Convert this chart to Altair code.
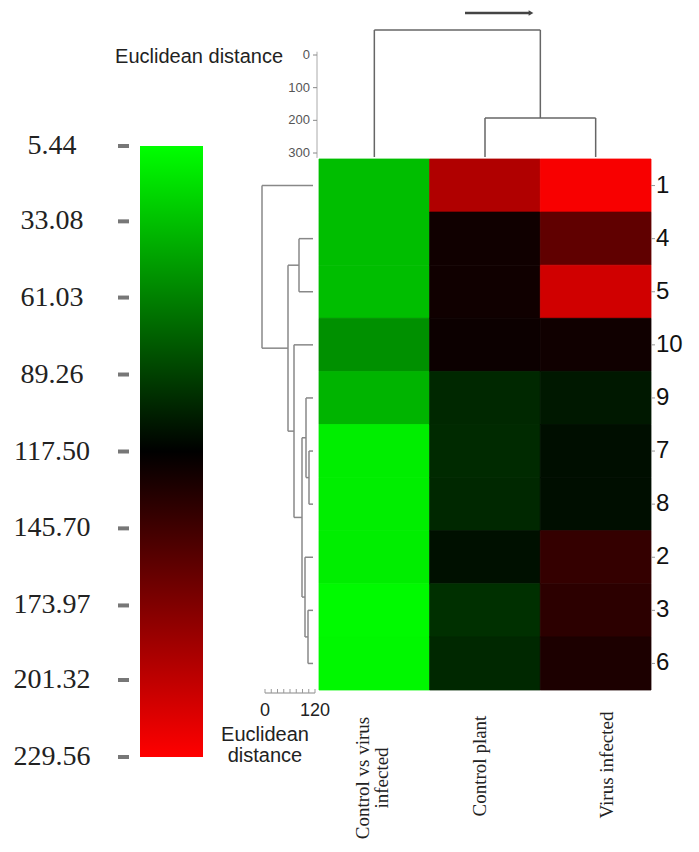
import altair as alt
import pandas as pd

# ---------------- data ----------------
row_labels = ["1", "4", "5", "10", "9", "7", "8", "2", "3", "6"]
col_labels = ["Control vs virus infected", "Control plant", "Virus infected"]
col_text = ["Control vs virus\ninfected", "Control plant", "Virus infected"]

vals_ctrl_vs_virus = [34.0, 34.0, 34.0, 54.2, 38.4, 12.9, 12.9, 12.9, 7.6, 8.5]
vals_control_plant = [194.8, 124.5, 124.5, 122.8, 99.9, 99.0, 99.9, 110.5, 96.4, 99.9]
vals_virus_infected = [226.5, 159.7, 208.9, 124.5, 107.0, 111.3, 111.3, 140.4, 136.8, 129.8]

key_ticks = [5.44, 33.08, 61.03, 89.26, 117.50, 145.70, 173.97, 201.32, 229.56]
key_labels = ["5.44", "33.08", "61.03", "89.26", "117.50", "145.70", "173.97", "201.32", "229.56"]

top_axis_ticks = [0, 100, 200, 300]
bot_axis_ticks = [0, 15, 30, 45, 60, 75, 90, 105, 120]
bot_axis_labels = [0, 120]

# dendrogram merges: (node, child a, child b, merge height)
col_merges = [
    ("c1", "Control plant", "Virus infected", 39),
    ("root", "Control vs virus infected", "c1", 127),
]
row_merges = [
    ("a", "3", "6", 5),
    ("b", "7", "8", 4),
    ("c", "2", "a", 8),
    ("d", "9", "b", 7),
    ("e", "d", "c", 11),
    ("f", "10", "e", 19),
    ("g", "4", "5", 14),
    ("h", "g", "f", 25),
    ("root", "1", "h", 51),
]


def dendro_segments(leaves, merges):
    pos = {k: i for i, k in enumerate(leaves)}
    ht = {k: 0.0 for k in leaves}
    segs = []
    for name, a, b, h in merges:
        for c in (a, b):
            segs.append({"p1": pos[c], "p2": pos[c], "h1": ht[c], "h2": h})
        segs.append({"p1": pos[a], "p2": pos[b], "h1": h, "h2": h})
        pos[name] = (pos[a] + pos[b]) / 2
        ht[name] = h
    return pd.DataFrame(segs)


heat_rows = []
for c, series in zip(col_labels, [vals_ctrl_vs_virus, vals_control_plant, vals_virus_infected]):
    for r, v in zip(row_labels, series):
        heat_rows.append({"col": c, "row": r, "v": v})
heat_df = pd.DataFrame(heat_rows)

# ---------------- scales (chart pixel frame) ----------------
HX = [311, 643]
HY = [151, 682]
sc_heat_x = alt.Scale(domain=col_labels, range=HX, paddingInner=0, paddingOuter=0)
sc_heat_y = alt.Scale(domain=row_labels, range=HY, paddingInner=0, paddingOuter=0)
sc_colpos = alt.Scale(domain=[-0.5, 2.5], range=HX, nice=False, zero=False)
sc_rowpos = alt.Scale(domain=[-0.5, 9.5], range=HY, nice=False, zero=False)
sc_col_h = alt.Scale(domain=[0, 127], range=[149, 22], nice=False, zero=False)
sc_row_h = alt.Scale(domain=[0, 51], range=[305, 254], nice=False, zero=False)
sc_top_axis = alt.Scale(domain=[0, 300], range=[47, 145], nice=False, zero=False)
sc_bot_axis = alt.Scale(domain=[0, 120], range=[257, 307], nice=False, zero=False)
sc_key = alt.Scale(domain=[key_ticks[0], key_ticks[-1]], range=[138, 749], nice=False, zero=False)
color_scale = alt.Scale(domain=[key_ticks[0], 117.5, key_ticks[-1]],
                        range=["#00ff00", "#000000", "#ff0000"], interpolate="rgb")

# ---------------- layers ----------------
heat = alt.Chart(heat_df).mark_rect(strokeWidth=0.8).encode(
    x=alt.X("col:N", scale=sc_heat_x, axis=None, sort=col_labels),
    y=alt.Y("row:N", scale=sc_heat_y, axis=None, sort=row_labels),
    color=alt.Color("v:Q", scale=color_scale, legend=None),
    stroke=alt.Stroke("v:Q", scale=color_scale, legend=None),
)

row_df = pd.DataFrame({"row": row_labels})
row_text = alt.Chart(row_df).mark_text(
    font="Liberation Sans", fontSize=24, align="left", baseline="middle", color="#111"
).encode(
    y=alt.Y("row:N", scale=sc_heat_y, axis=None, sort=row_labels),
    x=alt.value(648), text="row:N",
)
row_ticks = alt.Chart(row_df).mark_rule(color="#999", strokeWidth=1).encode(
    y=alt.Y("row:N", scale=sc_heat_y, axis=None, sort=row_labels, bandPosition=0.5),
    x=alt.value(643), x2=alt.value(647),
)

# column labels (rotated); per-label nudges in the rotated frame
col_nudge_dx = [-6, 6, 7]
col_nudge_dy = [-11, -5, 11]
col_label_layers = []
for i, (t, ddx, ddy) in enumerate(zip(col_text, col_nudge_dx, col_nudge_dy)):
    col_label_layers.append(
        alt.Chart(pd.DataFrame({"i": [i], "t": [t]})).mark_text(
            font="Liberation Serif", fontSize=19, angle=270, align="center", baseline="middle",
            lineBreak="\n", lineHeight=19, color="#222", dx=ddx, dy=ddy
        ).encode(
            x=alt.X("i:Q", scale=sc_colpos, axis=None),
            y=alt.value(764), text="t:N",
        )
    )

col_seg = dendro_segments(col_labels, col_merges)
col_dendro = alt.Chart(col_seg).mark_rule(color="#666", strokeWidth=1.5).encode(
    x=alt.X("p1:Q", scale=sc_colpos, axis=None), x2="p2:Q",
    y=alt.Y("h1:Q", scale=sc_col_h, axis=None), y2="h2:Q",
)

row_seg = dendro_segments(row_labels, row_merges)
row_dendro = alt.Chart(row_seg).mark_rule(color="#888", strokeWidth=1.5).encode(
    y=alt.Y("p1:Q", scale=sc_rowpos, axis=None), y2="p2:Q",
    x=alt.X("h1:Q", scale=sc_row_h, axis=None), x2="h2:Q",
)

# top axis
top_df = pd.DataFrame({"v": top_axis_ticks})
top_line = alt.Chart(pd.DataFrame({"a": [-10], "b": [315]})).mark_rule(color="#aaa", strokeWidth=1).encode(
    y=alt.Y("a:Q", scale=sc_top_axis, axis=None), y2="b:Q", x=alt.value(309),
)
top_tick = alt.Chart(top_df).mark_rule(color="#888", strokeWidth=1).encode(
    y=alt.Y("v:Q", scale=sc_top_axis, axis=None), x=alt.value(305), x2=alt.value(309),
)
top_lab = alt.Chart(top_df).mark_text(
    font="Liberation Sans", fontSize=13, align="right", baseline="middle", color="#555"
).encode(y=alt.Y("v:Q", scale=sc_top_axis, axis=None), x=alt.value(302), text="v:Q")
top_title = alt.Chart(pd.DataFrame({"v": [0], "t": ["Euclidean distance"]})).mark_text(
    font="Liberation Sans", fontSize=20, align="right", baseline="middle", color="#222", dy=2
).encode(y=alt.Y("v:Q", scale=sc_top_axis, axis=None), x=alt.value(275), text="t:N")

# bottom axis
bot_df = pd.DataFrame({"v": bot_axis_ticks})
bot_line = alt.Chart(pd.DataFrame({"a": [0], "b": [120]})).mark_rule(color="#888", strokeWidth=1.2).encode(
    x=alt.X("a:Q", scale=sc_bot_axis, axis=None), x2="b:Q", y=alt.value(685),
)
bot_tick = alt.Chart(bot_df).mark_rule(color="#999", strokeWidth=1).encode(
    x=alt.X("v:Q", scale=sc_bot_axis, axis=None), y=alt.value(681), y2=alt.value(685),
)
bot_lab = alt.Chart(pd.DataFrame({"v": bot_axis_labels})).mark_text(
    font="Liberation Sans", fontSize=18, align="center", baseline="middle", color="#222"
).encode(x=alt.X("v:Q", scale=sc_bot_axis, axis=None), y=alt.value(703), text="v:Q")
bot_title = alt.Chart(pd.DataFrame({"v": [0], "t": ["Euclidean\ndistance"]})).mark_text(
    font="Liberation Sans", fontSize=20, align="center", baseline="middle", color="#222",
    lineBreak="\n", lineHeight=21
).encode(x=alt.X("v:Q", scale=sc_bot_axis, axis=None), y=alt.value(727), text="t:N")

# colour key
key_bar = alt.Chart(pd.DataFrame({"lo": [key_ticks[0]], "hi": [key_ticks[-1]]})).mark_rect(
    color=alt.Gradient(
        gradient="linear",
        stops=[alt.GradientStop(color="#00ff00", offset=0),
               alt.GradientStop(color="#000000", offset=0.5),
               alt.GradientStop(color="#ff0000", offset=1)],
        x1=0, x2=0, y1=0, y2=1,
    )
).encode(
    y=alt.Y("lo:Q", scale=sc_key, axis=None), y2="hi:Q",
    x=alt.value(132), x2=alt.value(195),
)
key_df = pd.DataFrame({"v": key_ticks, "t": key_labels})
key_tick = alt.Chart(key_df).mark_rule(color="#777", strokeWidth=4).encode(
    y=alt.Y("v:Q", scale=sc_key, axis=None), x=alt.value(110), x2=alt.value(121),
)
key_lab = alt.Chart(key_df).mark_text(
    font="Liberation Serif", fontSize=28, align="center", baseline="middle", color="#222"
).encode(y=alt.Y("v:Q", scale=sc_key, axis=None), x=alt.value(44), text="t:N")

# arrow at top
arrow_line = alt.Chart(pd.DataFrame({"k": [0]})).mark_rule(color="#444", strokeWidth=2.5).encode(
    x=alt.value(457), x2=alt.value(521), y=alt.value(5),
)
arrow_head = alt.Chart(pd.DataFrame({"k": [0]})).mark_point(
    shape="triangle-right", filled=True, size=30, color="#444", opacity=1
).encode(x=alt.value(523), y=alt.value(5))

chart = alt.layer(
    key_bar, key_tick, key_lab,
    heat, row_ticks, row_text, *col_label_layers,
    col_dendro, row_dendro,
    top_line, top_tick, top_lab, top_title,
    bot_line, bot_tick, bot_lab, bot_title,
    arrow_line, arrow_head,
).resolve_scale(
    x="independent", y="independent", color="independent", stroke="independent"
).properties(
    width=683, height=836, padding=0, autosize="none", background="white"
).configure_view(strokeWidth=0)

chart.save("out.html", embed_options={"renderer": "svg", "actions": False})
